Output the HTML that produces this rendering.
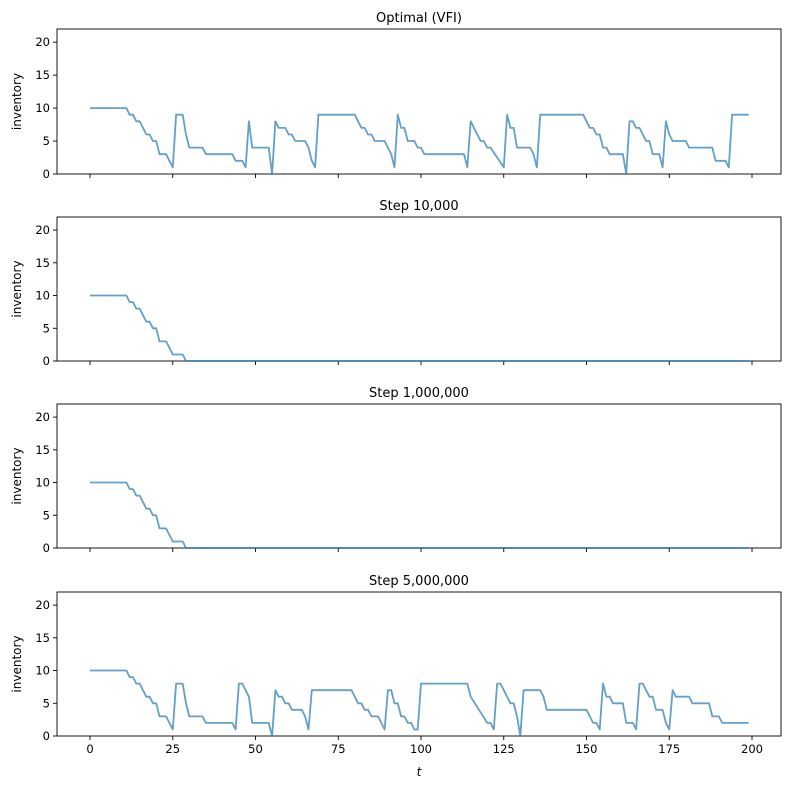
<!DOCTYPE html><html><head><meta charset="utf-8"><style>body{margin:0;background:#fff}svg{display:block;font-family:"DejaVu Sans","Liberation Sans",sans-serif}</style></head><body>
<svg id="s" width="790" height="789" xmlns="http://www.w3.org/2000/svg"></svg>
<script>
const P1="0:10,11:10,12:9,13:9,14:8,15:8,16:7,17:6,18:6,19:5,20:5,21:3,23:3,24:2,25:1,26:9,28:9,29:6,30:4,34:4,35:3,43:3,44:2,46:2,47:1,48:8,49:4,54:4,55:0,56:8,57:7,59:7,60:6,61:6,62:5,65:5,66:4,67:2,68:1,69:9,80:9,81:8,82:7,83:7,84:6,85:6,86:5,89:5,90:4,91:3,92:1,93:9,94:7,95:7,96:5,98:5,99:4,100:4,101:3,113:3,114:1,115:8,116:7,117:6,118:5,119:5,120:4,121:4,125:1,126:9,127:7,128:7,129:4,133:4,134:3,135:1,136:9,149:9,150:8,151:7,152:7,153:6,154:6,155:4,156:4,157:3,161:3,162:0,163:8,164:8,165:7,166:7,167:6,168:5,169:5,170:3,172:3,173:1,174:8,175:6,176:5,180:5,181:4,188:4,189:2,192:2,193:1,194:9,199:9";
const P2="0:10,11:10,12:9,13:9,14:8,15:8,16:7,17:6,18:6,19:5,20:5,21:3,23:3,24:2,25:1,28:1,29:0,199:0";
const P4="0:10,11:10,12:9,13:9,14:8,15:8,16:7,17:6,18:6,19:5,20:5,21:3,23:3,24:2,25:1,26:8,28:8,29:5,30:3,34:3,35:2,43:2,44:1,45:8,46:8,47:7,48:6,49:2,54:2,55:0,56:7,57:6,58:6,59:5,60:5,61:4,64:4,65:3,66:1,67:7,79:7,80:6,81:5,82:5,83:4,84:4,85:3,87:3,88:2,89:1,90:7,91:7,92:5,93:5,94:3,95:3,96:2,97:2,98:1,99:1,100:8,114:8,115:6,120:2,121:2,122:1,123:8,124:8,125:7,126:6,127:5,128:5,129:3,130:0,131:7,136:7,137:6,138:4,150:4,151:3,152:2,153:2,154:1,155:8,156:6,157:6,158:5,161:5,162:2,164:2,165:1,166:8,167:8,168:7,169:6,170:6,171:4,173:4,174:2,175:1,176:7,177:6,181:6,182:5,187:5,188:3,190:3,191:2,199:2";
const panels=[["Optimal (VFI)",29,174,P1],["Step 10,000",217,361,P2],["Step 1,000,000",404,548,P2],["Step 5,000,000",592,736,P4]];
const L=57,R=781,X=t=>90+t*3.31;let h="";
panels.forEach(([title,top,bot,d],i)=>{
 const Y=v=>bot-(bot-top)*v/22;
 h+=`<text x="${(L+R)/2}" y="${top-7}" font-size="13" text-anchor="middle">${title}</text>`;
 h+=`<rect x="${L}" y="${top}" width="${R-L}" height="${bot-top}" fill="none" stroke="#000" stroke-width="0.9"/>`;
 for(let v=0;v<=20;v+=5){const y=Y(v);h+=`<line x1="${L-4}" x2="${L}" y1="${y}" y2="${y}" stroke="#000" stroke-width="0.9"/><text x="${L-7}" y="${y+4}" font-size="11.5" text-anchor="end">${v}</text>`;}
 for(let t=0;t<=200;t+=25){const x=X(t);h+=`<line x1="${x}" x2="${x}" y1="${bot}" y2="${bot+4}" stroke="#000" stroke-width="0.9"/>`;if(i==3)h+=`<text x="${x}" y="${bot+17}" font-size="11.5" text-anchor="middle">${t}</text>`;}
 h+=`<text transform="translate(21,${(top+bot)/2}) rotate(-90)" font-size="12" text-anchor="middle">inventory</text>`;
 const pts=d.split(",").map(p=>{const[a,b]=p.split(":").map(Number);return X(a).toFixed(1)+","+Y(b).toFixed(1)}).join(" ");
 h+=`<polyline points="${pts}" fill="none" stroke="#1f77b4" stroke-opacity="0.7" stroke-width="1.8" stroke-linejoin="round"/>`;
});
h+=`<text x="419" y="776" font-size="12" font-style="italic" text-anchor="middle">t</text>`;
document.getElementById("s").innerHTML=h;
</script></body></html>
